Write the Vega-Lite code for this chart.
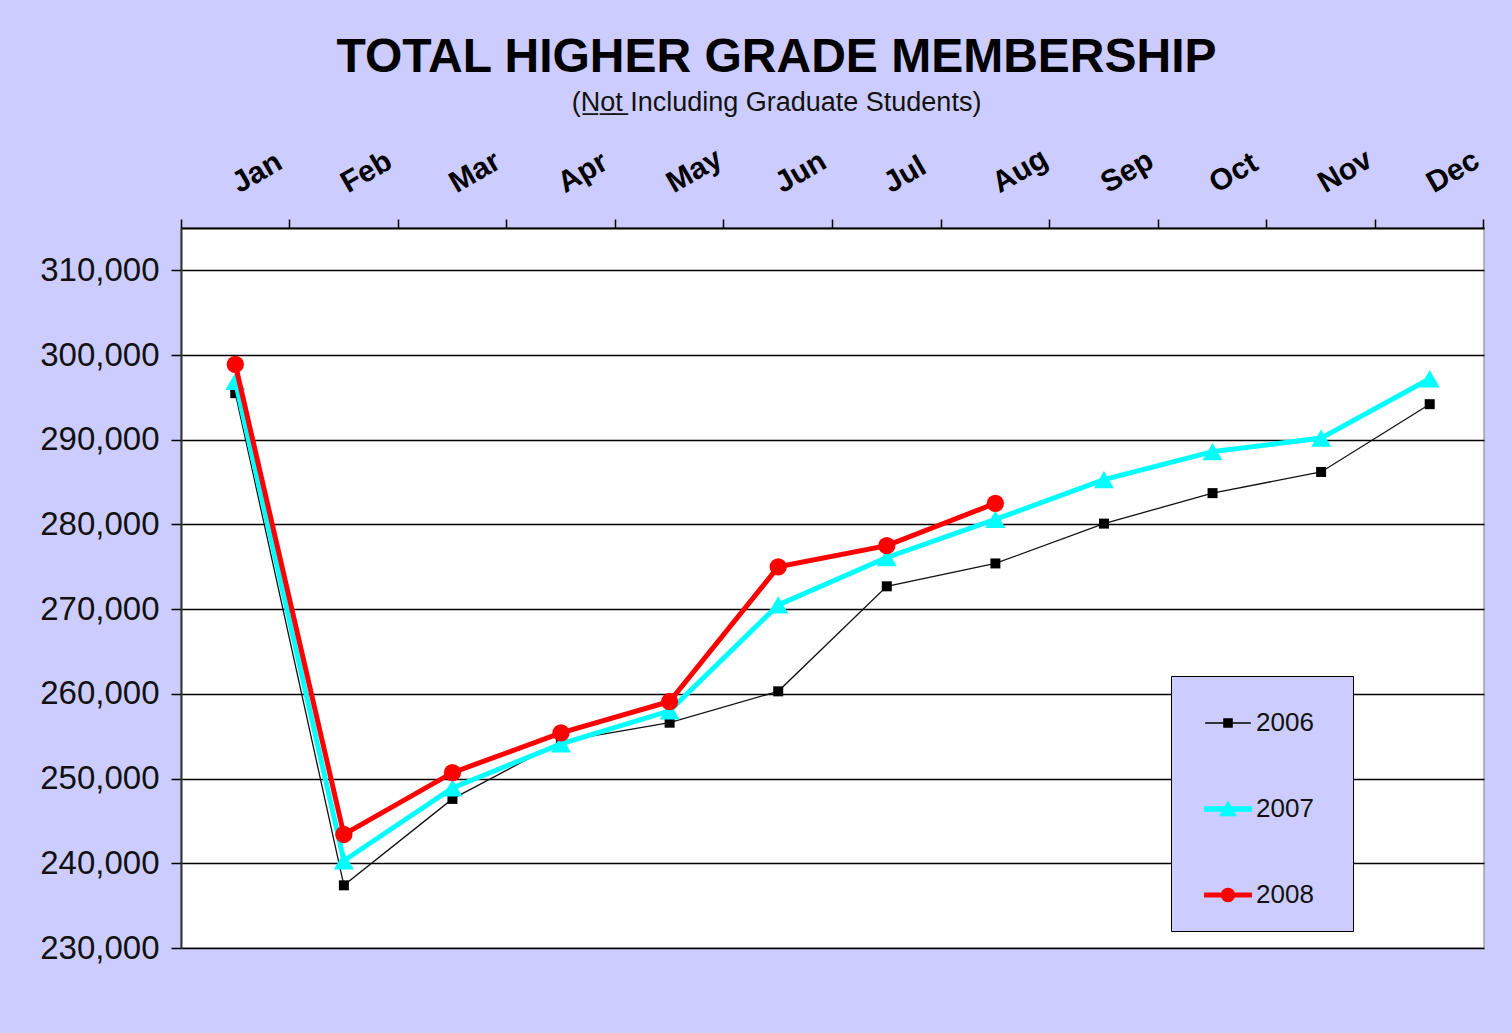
{
  "$schema": "https://vega.github.io/schema/vega-lite/v6.json",
  "width": 1303,
  "height": 720,
  "autosize": "none",
  "padding": {"left": 181, "top": 228, "right": 28, "bottom": 85},
  "background": "#ccccff",
  "title": {
    "text": "TOTAL HIGHER GRADE MEMBERSHIP",
    "subtitle": "(N\u0332o\u0332t\u0332 Including Graduate Students)",
    "anchor": "middle",
    "dx": -56,
    "font": "Liberation Sans",
    "fontSize": 48,
    "fontWeight": "bold",
    "color": "#000000",
    "subtitleFont": "Liberation Sans",
    "subtitleFontSize": 27,
    "subtitleColor": "#111111",
    "subtitlePadding": 8,
    "offset": 27
  },
  "data": {
    "values": [
      {"month": "Jan", "year": "2006", "value": 295500},
      {"month": "Feb", "year": "2006", "value": 237400},
      {"month": "Mar", "year": "2006", "value": 247600},
      {"month": "Apr", "year": "2006", "value": 254400},
      {"month": "May", "year": "2006", "value": 256600},
      {"month": "Jun", "year": "2006", "value": 260300},
      {"month": "Jul", "year": "2006", "value": 272700},
      {"month": "Aug", "year": "2006", "value": 275400},
      {"month": "Sep", "year": "2006", "value": 280100},
      {"month": "Oct", "year": "2006", "value": 283700},
      {"month": "Nov", "year": "2006", "value": 286200},
      {"month": "Dec", "year": "2006", "value": 294200},
      {"month": "Jan", "year": "2007", "value": 296900},
      {"month": "Feb", "year": "2007", "value": 240300},
      {"month": "Mar", "year": "2007", "value": 248900},
      {"month": "Apr", "year": "2007", "value": 254100},
      {"month": "May", "year": "2007", "value": 258000},
      {"month": "Jun", "year": "2007", "value": 270500},
      {"month": "Jul", "year": "2007", "value": 276100},
      {"month": "Aug", "year": "2007", "value": 280600},
      {"month": "Sep", "year": "2007", "value": 285300},
      {"month": "Oct", "year": "2007", "value": 288600},
      {"month": "Nov", "year": "2007", "value": 290200},
      {"month": "Dec", "year": "2007", "value": 297200},
      {"month": "Jan", "year": "2008", "value": 298900},
      {"month": "Feb", "year": "2008", "value": 243400},
      {"month": "Mar", "year": "2008", "value": 250700},
      {"month": "Apr", "year": "2008", "value": 255400},
      {"month": "May", "year": "2008", "value": 259100},
      {"month": "Jun", "year": "2008", "value": 275000},
      {"month": "Jul", "year": "2008", "value": 277500},
      {"month": "Aug", "year": "2008", "value": 282500}
    ]
  },
  "encoding": {
    "x": {
      "field": "month",
      "type": "nominal",
      "sort": ["Jan", "Feb", "Mar", "Apr", "May", "Jun", "Jul", "Aug", "Sep", "Oct", "Nov", "Dec"],
      "scale": {"type": "band", "paddingInner": 0, "paddingOuter": 0},
      "axis": {
        "orient": "top",
        "title": null,
        "labelAngle": -30,
        "labelAlign": "left",
        "labelBaseline": "alphabetic",
        "labelFontSize": 30,
        "labelFontWeight": "bold",
        "labelFont": "Liberation Sans",
        "labelColor": "#000000",
        "labelPadding": 26,
        "labelOffset": 4,
        "tickSize": 9,
        "tickColor": "#000000",
        "tickWidth": 1.5,
        "domainColor": "#000000",
        "domainWidth": 2,
        "bandPosition": 1,
        "tickExtra": true,
        "grid": false
      }
    },
    "y": {
      "field": "value",
      "type": "quantitative",
      "scale": {"domain": [230000, 315000], "nice": false, "zero": false},
      "axis": {
        "title": null,
        "values": [230000, 240000, 250000, 260000, 270000, 280000, 290000, 300000, 310000],
        "format": ",d",
        "labelFontSize": 33,
        "labelFont": "Liberation Sans",
        "labelColor": "#111111",
        "labelPadding": 12,
        "tickSize": 10,
        "tickColor": "#000000",
        "tickWidth": 1.5,
        "domainColor": "#333333",
        "domainWidth": 2,
        "grid": true,
        "gridColor": "#000000",
        "gridWidth": 1.5
      }
    }
  },
  "layer": [
    {
      "transform": [{"filter": "datum.year == '2006'"}],
      "mark": {
        "type": "line",
        "color": "#111111",
        "strokeWidth": 1.3,
        "point": {"shape": "square", "size": 100, "filled": true, "color": "#000000", "strokeWidth": 0}
      }
    },
    {
      "transform": [{"filter": "datum.year == '2007'"}],
      "mark": {
        "type": "line",
        "color": "#00ffff",
        "strokeWidth": 5,
        "point": {"shape": "triangle-up", "size": 400, "filled": true, "color": "#00ffff", "strokeWidth": 0}
      }
    },
    {
      "transform": [{"filter": "datum.year == '2008'"}],
      "mark": {
        "type": "line",
        "color": "#ff0000",
        "strokeWidth": 5,
        "point": {"shape": "circle", "size": 300, "filled": true, "color": "#ff0000", "strokeWidth": 0}
      }
    },
    {
      "transform": [{"filter": "datum.year == 'none'"}],
      "mark": {"type": "point", "filled": true, "size": 2304, "opacity": 1, "strokeWidth": 0},
      "encoding": {
        "color": {
          "field": "year",
          "type": "nominal",
          "scale": {"domain": ["2006", "2007", "2008"], "range": ["#000000", "#00ffff", "#ff0000"]},
          "legend": {
            "orient": "none",
            "legendX": 990,
            "legendY": 448,
            "direction": "vertical",
            "title": ".",
            "titleOrient": "right",
            "titleColor": "#ccccff",
            "titleFontSize": 8,
            "titlePadding": 13,
            "fillColor": "#ccccff",
            "strokeColor": "#000000",
            "padding": 23,
            "rowPadding": 49,
            "symbolSize": 2304,
            "symbolOffset": 10,
            "labelOffset": 4,
            "labelFontSize": 26,
            "labelFont": "Liberation Sans",
            "labelColor": "#111111",
            "symbolStrokeWidth": 0
          }
        },
        "shape": {
          "field": "year",
          "type": "nominal",
          "scale": {
            "domain": ["2006", "2007", "2008"],
            "range": [
              "M-0.95,-0.03H0.95V0.03H-0.95Z M-0.2,-0.2H0.2V0.2H-0.2Z",
              "M-1,-0.11H1V0.11H-1Z M-0.37,0.3L0,-0.35L0.37,0.3Z",
              "M-1,-0.1H1V0.1H-1Z M-0.3,0A0.3,0.3 0 1,1 0.3,0A0.3,0.3 0 1,1 -0.3,0Z"
            ]
          },
          "legend": {
            "orient": "none",
            "legendX": 990,
            "legendY": 448,
            "direction": "vertical",
            "title": ".",
            "titleOrient": "right",
            "titleColor": "#ccccff",
            "titleFontSize": 8,
            "titlePadding": 13,
            "fillColor": "#ccccff",
            "strokeColor": "#000000",
            "padding": 23,
            "rowPadding": 49,
            "symbolSize": 2304,
            "symbolOffset": 10,
            "labelOffset": 4,
            "labelFontSize": 26,
            "labelFont": "Liberation Sans",
            "labelColor": "#111111",
            "symbolStrokeWidth": 0
          }
        }
      }
    }
  ],
  "config": {
    "view": {"fill": "#ffffff", "stroke": "#a0a0a0", "strokeWidth": 1.5}
  }
}
